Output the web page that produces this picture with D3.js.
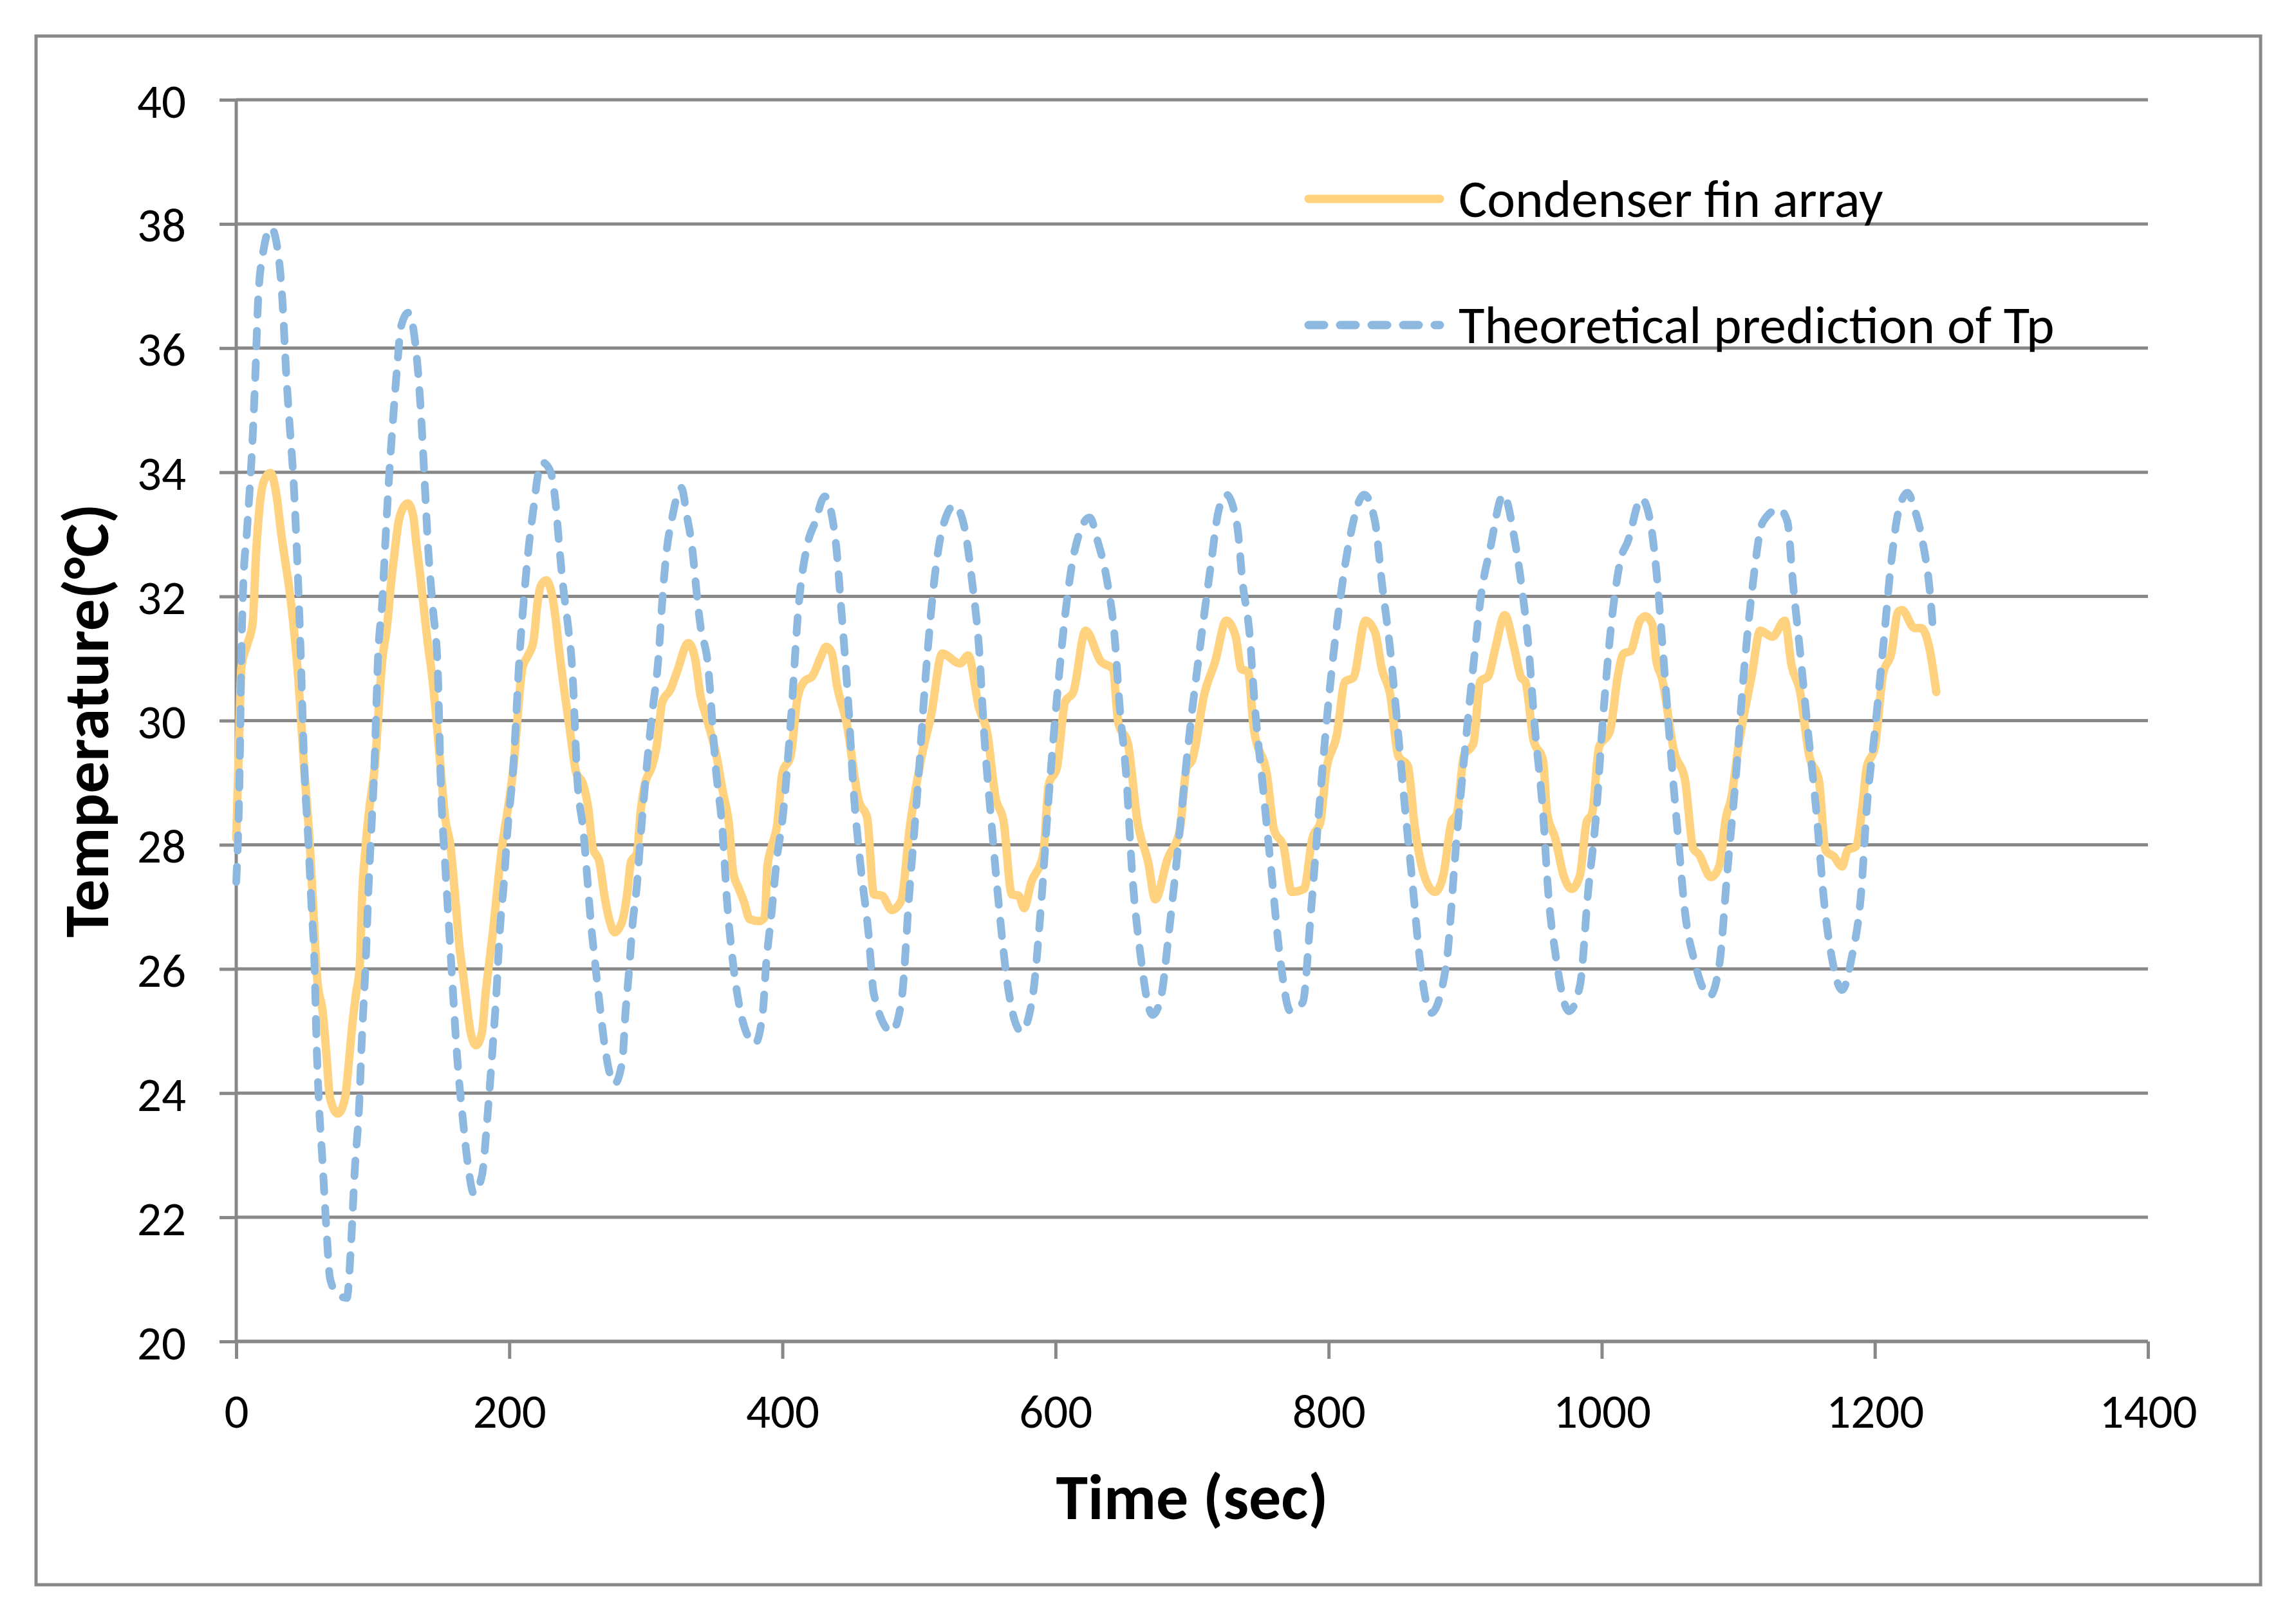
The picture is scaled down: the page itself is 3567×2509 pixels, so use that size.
<!DOCTYPE html>
<html>
<head>
<meta charset="utf-8">
<script src="https://cdn.jsdelivr.net/npm/d3@7"></script>
<style>
  html, body { margin: 0; padding: 0; background: #fff; }
  text { font-family: Carlito, Calibri, Lato, sans-serif; fill: #000; }
</style>
</head>
<body>
<script>
// time (sec), temperature (C)
var finArray = [
  [0,28.1],[2,29.6],[3.8,30.86],[8,31.22],[12,31.57],[14.6,32.71],[17,33.42],[20,33.84],[25,33.99],[29.7,33.6],
  [33,33.0],[35.8,32.58],[39,32.1],[42,31.52],[44.8,30.86],[50,29.16],[54,27.96],[56.6,26.89],[59.4,25.82],[63.5,25.28],
  [66,24.63],[68.8,23.91],[74.4,23.67],[79.6,23.91],[82.5,24.5],[85,25.1],[87.6,25.58],[90.5,26.06],[92,27.07],[94.7,27.96],
  [98,28.68],[101,29.16],[107,30.98],[110.7,31.57],[113.5,32.24],[116,32.71],[118.7,33.18],[122,33.42],[125.6,33.5],[129.6,33.3],
  [132,32.83],[135,32.29],[138,31.69],[140.4,31.22],[143,30.8],[150,29.16],[152.6,28.5],[157,27.96],[160.7,27.07],[163.5,26.35],
  [166,25.94],[169,25.4],[171.6,24.98],[175.7,24.77],[180,24.98],[182.5,25.58],[185,26.06],[188,26.6],[190.8,27.2],[194.6,27.96],
  [198.8,28.56],[202.6,29.16],[209.7,30.86],[213.5,31.04],[217.7,31.28],[220.5,31.87],[223,32.17],[227,32.26],[231,32.05],[234,31.63],
  [236,31.22],[238,30.86],[244,29.9],[249,29.16],[254,28.98],[258,28.56],[261,27.96],[266,27.72],[269.5,27.2],[273.5,26.77],
  [277,26.59],[282.7,26.77],[286.5,27.24],[289,27.72],[293.5,27.87],[296,28.5],[298.7,28.92],[305,29.3],[308,29.6],[312,30.3],
  [318,30.5],[323,30.8],[331,31.25],[336,31.0],[340,30.4],[345,30.0],[352,29.4],[356,28.9],[361,28.3],[364,27.55],
  [368,27.3],[372,27.07],[376,26.8],[383,26.77],[387,26.83],[389,27.65],[392,27.96],[396,28.3],[400,29.16],[406,29.43],
  [411,30.36],[416,30.63],[422,30.72],[428,31.02],[432,31.19],[436,31.1],[440,30.56],[447,29.96],[456,28.7],[462,28.44],
  [467,27.2],[473,27.18],[480,26.95],[487,27.1],[493,28.24],[502,29.43],[509,30.1],[517,31.08],[530,30.92],[536,31.05],
  [544,30.2],[550,29.8],[556,28.77],[562,28.37],[568,27.2],[573,27.18],[577,26.98],[582,27.38],[591,27.85],[595,28.97],
  [601,29.24],[607,30.3],[613,30.46],[622,31.45],[633,30.96],[642,30.83],[646,29.96],[653,29.63],[660,28.37],[668,27.7],
  [673,27.12],[682,27.77],[691,28.24],[696,29.24],[700,29.36],[709,30.43],[717,30.96],[725,31.61],[732,31.35],[736,30.83],
  [741,30.79],[745,29.9],[755,29.1],[760,28.24],[767,27.97],[773,27.24],[782,27.29],[788,28.1],[794,28.37],[798,29.16],
  [806,29.77],[812,30.63],[818,30.69],[827,31.61],[834,31.42],[839,30.83],[845,30.43],[851,29.43],[858,29.27],[863,28.3],
  [871,27.44],[878,27.24],[884,27.51],[890,28.37],[894,28.5],[899,29.43],[906,29.63],[911,30.63],[917,30.72],[922,31.16],
  [929,31.7],[936,31.16],[941,30.69],[944,30.63],[950,29.69],[957,29.36],[960,28.51],[966,28.1],[972,27.51],[978,27.29],
  [984,27.51],[989,28.37],[993,28.51],[998,29.57],[1006,29.83],[1012,30.75],[1016,31.08],[1021,31.12],[1028,31.61],[1032,31.68],
  [1037,31.55],[1040,30.96],[1044,30.69],[1053,29.5],[1061,29.04],[1067,27.94],[1071,27.85],[1080,27.48],[1086,27.65],[1091,28.44],
  [1095,28.77],[1100,29.57],[1106,30.3],[1110,30.75],[1116,31.45],[1125,31.35],[1134,31.61],[1139,30.89],[1145,30.49],[1152,29.43],
  [1159,29.04],[1164,27.91],[1170,27.81],[1176,27.65],[1180,27.91],[1186,27.97],[1191,28.64],[1194,29.24],[1200,29.57],[1206,30.75],
  [1212,31.08],[1217,31.75],[1220,31.78],[1229,31.49],[1234,31.49],[1240,31.16],[1245,30.46]
]

var tpPrediction = [
  [0,27.4],[2.5,29.2],[3.8,31.1],[5,32.1],[8,33.1],[12,34.55],[14,35.57],[16,36.76],[19.6,37.53],[25.5,37.94],
  [31,37.48],[34,36.7],[36.5,35.63],[39,34.79],[42,33.85],[45,32.41],[47,31.22],[50,29.16],[52.6,28.14],[55,27.07],
  [57.5,25.94],[58.6,24.98],[60.4,23.91],[63,22.96],[66,21.83],[68.8,21.0],[74.4,20.76],[81,20.7],[84,21.53],[86.7,22.72],
  [90,23.79],[92,24.87],[94.7,26.06],[97,27.37],[99,28.26],[101,29.16],[104,31.1],[107,31.93],[109.5,33.0],[112,33.95],
  [115,34.9],[118,35.74],[120.6,36.34],[126,36.57],[131,36.1],[134,35.38],[136,34.67],[138,33.84],[140.4,32.83],[144,31.81],
  [147.5,30.86],[150,28.86],[153,27.68],[156,26.6],[158.8,25.6],[162,24.52],[166,23.57],[169.6,22.86],[174,22.38],[180,22.68],
  [184,23.63],[187.5,24.65],[190.5,25.6],[193,26.6],[196,27.38],[198.8,28.27],[202.6,29.16],[208,31.22],[211,32.05],[213.5,32.65],
  [217.7,33.42],[221,33.96],[224,34.16],[230,34.02],[234,33.48],[236.5,32.83],[239,32.24],[243,31.52],[246,30.86],[250,28.98],
  [254,28.26],[257,27.49],[259.6,26.77],[262.4,26.18],[266,25.46],[270,24.74],[277,24.15],[282.7,24.51],[285,25.28],[288,26.06],
  [290,26.66],[293.5,27.37],[296,28.09],[298.7,28.8],[304,30.0],[309.5,31.1],[312,31.93],[315,32.7],[319,33.24],[326,33.75],
  [330,33.3],[334,32.76],[337,32.1],[340,31.52],[345,30.98],[351.5,29.16],[356,28.26],[359.5,27.07],[364,26.06],[368,25.46],
  [373.5,24.98],[380,24.8],[385.5,25.28],[388,26.06],[392,26.89],[396,27.79],[400,28.4],[406,29.96],[412,31.88],[418,32.81],
  [424,33.2],[431,33.61],[439,32.88],[443,31.82],[448,30.36],[452,28.9],[457,27.71],[463,26.58],[467,25.59],[480,24.99],
  [487,25.46],[493,27.24],[499,28.9],[505,30.75],[511,32.22],[517,33.08],[526,33.47],[533,33.14],[539,32.22],[544,31.16],
  [548,29.69],[553,28.37],[559,26.91],[565,25.73],[575,24.99],[583,25.52],[589,26.91],[595,28.77],[601,30.36],[607,31.69],
  [614,32.74],[625,33.27],[631,32.88],[638,32.22],[643,31.42],[647,30.22],[652,29.04],[656,27.58],[662,26.26],[671,25.26],
  [677,25.52],[683,26.58],[691,28.24],[697,29.57],[706,31.22],[714,32.55],[719,33.34],[725,33.64],[733,33.14],[737,32.22],
  [742,31.42],[746,30.22],[752,28.9],[758,27.58],[764,26.26],[772,25.32],[781,25.46],[787,26.91],[793,28.57],[799,30.1],
  [808,31.88],[815,32.88],[826,33.64],[834,33.2],[839,32.22],[845,31.16],[851,29.77],[856,28.57],[862,27.24],[866,26.3],
  [875,25.29],[886,26.05],[893,27.91],[900,29.57],[906,30.89],[912,32.08],[918,32.74],[928,33.64],[936,32.94],[941,32.22],
  [946,31.28],[951,29.89],[957,28.51],[961,27.18],[966,26.26],[976,25.32],[984,25.73],[990,27.24],[996,28.51],[1000,29.77],
  [1008,31.75],[1014,32.61],[1019,32.88],[1029,33.58],[1035,33.27],[1040,32.41],[1044,31.35],[1050,29.63],[1056,28.1],[1061,26.91],
  [1068,26.12],[1079,25.56],[1086,26.05],[1092,27.58],[1098,29.04],[1104,30.75],[1110,32.08],[1118,33.2],[1130,33.41],[1136,33.2],
  [1140,32.22],[1145,31.16],[1151,29.83],[1157,28.57],[1163,27.05],[1169,26.12],[1176,25.66],[1183,26.18],[1190,27.24],[1194,28.57],
  [1200,29.83],[1206,31.16],[1212,32.55],[1217,33.34],[1224,33.67],[1229,33.41],[1235,32.88],[1240,32.14],[1243,31.35]
]

var xTicks = [0, 200, 400, 600, 800, 1000, 1200, 1400]
var yTicks = [20, 22, 24, 26, 28, 30, 32, 34, 36, 38, 40]
var seriesNames = ["Condenser fin array", "Theoretical prediction of Tp"]

var W = 3567, H = 2509
var plotL = 367, plotR = 3337, plotT = 155, plotB = 2084
var grey = "#888888", orange = "#FFD27F", blue = "#8DB9E0"

var svg = d3.select("body").append("svg")
    .attr("width", W).attr("height", H)

// outer frame
svg.append("rect")
    .attr("x", 56).attr("y", 56).attr("width", 3456).attr("height", 2406)
    .attr("fill", "#fff").attr("stroke", grey).attr("stroke-width", 5)

var x = d3.scaleLinear().domain([0, 1400]).range([plotL, plotR])
var y = d3.scaleLinear().domain([20, 40]).range([plotB, plotT])

// horizontal gridlines
svg.append("g").selectAll("line")
    .data(yTicks).enter().append("line")
    .attr("x1", plotL).attr("x2", plotR)
    .attr("y1", function(d) { return y(d) }).attr("y2", function(d) { return y(d) })
    .attr("stroke", grey).attr("stroke-width", 5)

var yAxis = svg.append("g")
    .attr("transform", "translate(" + plotL + ",0)")
    .call(d3.axisLeft(y).tickValues(yTicks).tickSize(26).tickPadding(52).tickFormat(d3.format("d")))
var xAxis = svg.append("g")
    .attr("transform", "translate(0," + plotB + ")")
    .call(d3.axisBottom(x).tickValues(xTicks).tickSize(27).tickPadding(54).tickFormat(d3.format("d")))

;[yAxis, xAxis].forEach(function(a) {
  a.selectAll("path, line").attr("stroke", grey).attr("stroke-width", 5)
  a.selectAll("text").style("font-size", "75px").attr("fill", "#000")
})
yAxis.select("path").attr("d", "M0," + plotT + "V" + plotB)
xAxis.select("path").attr("d", "M" + plotL + ",0H" + plotR)
yAxis.selectAll("text").attr("dy", "0.36em")

var line = d3.line()
    .x(function(d) { return x(d[0]) })
    .y(function(d) { return y(d[1]) })
    .curve(d3.curveMonotoneX)

svg.append("path").datum(finArray)
    .attr("d", line).attr("fill", "none")
    .attr("stroke", orange).attr("stroke-width", 13)
    .attr("stroke-linejoin", "round").attr("stroke-linecap", "round")

svg.append("path").datum(tpPrediction)
    .attr("d", line).attr("fill", "none")
    .attr("stroke", blue).attr("stroke-width", 12)
    .attr("stroke-dasharray", "24,25")
    .attr("stroke-linejoin", "round").attr("stroke-linecap", "round")

// legend
var legend = svg.append("g").selectAll("g")
    .data(seriesNames).enter().append("g")
    .attr("transform", function(d, i) { return "translate(2033," + (309 + i * 196) + ")" })
legend.append("line")
    .attr("x1", 0).attr("x2", 204)
    .attr("stroke", function(d, i) { return i ? blue : orange })
    .attr("stroke-width", 13).attr("stroke-linecap", "round")
    .attr("stroke-dasharray", function(d, i) { return i ? "24,25" : null })
legend.append("text")
    .attr("x", 233).attr("y", 28)
    .style("font-size", "83px")
    .text(function(d) { return d })

// axis titles
svg.append("text")
    .attr("x", (plotL + plotR) / 2).attr("y", 2360)
    .attr("text-anchor", "middle")
    .style("font-size", "100px").style("font-weight", "bold")
    .text("Time (sec)")

svg.append("text")
    .attr("transform", "translate(168," + (plotT + plotB) / 2 + ") rotate(-90)")
    .attr("text-anchor", "middle")
    .style("font-size", "99px").style("font-weight", "bold")
    .text("Temperature(°C)")
</script>
</body>
</html>
